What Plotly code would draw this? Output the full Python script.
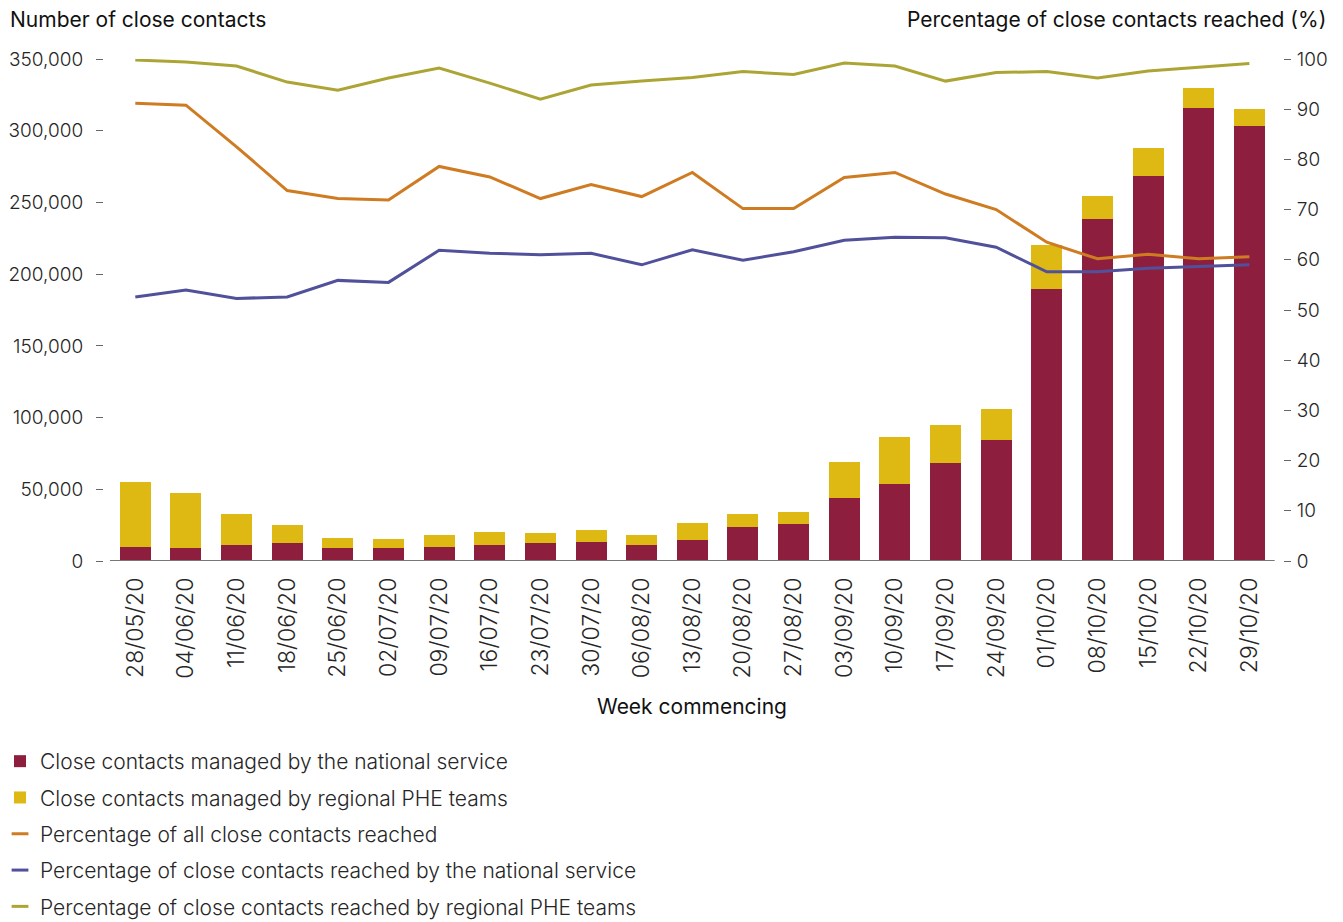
import plotly.graph_objects as go

weeks = [
    "28/05/20", "04/06/20", "11/06/20", "18/06/20", "25/06/20", "02/07/20",
    "09/07/20", "16/07/20", "23/07/20", "30/07/20", "06/08/20", "13/08/20",
    "20/08/20", "27/08/20", "03/09/20", "10/09/20", "17/09/20", "24/09/20",
    "01/10/20", "08/10/20", "15/10/20", "22/10/20", "29/10/20",
]

national = [
    9800, 9000, 11200, 12500, 9100, 9100, 9800, 11200, 12500, 13200, 11200, 14600,
    23700, 25800, 43900, 53700, 68300, 84400, 189600, 238400, 268400, 315800, 303300,
]
regional = [
    45300, 38400, 21600, 12600, 6900, 6200, 8300, 9000, 7000, 8400, 6900, 11900,
    9100, 8400, 25100, 32800, 26500, 21600, 30700, 16100, 19600, 14000, 11800,
]

pct_all = [
    91.2, 90.8, 82.5, 73.8, 72.2, 71.9, 78.6, 76.5, 72.2, 75.0, 72.6, 77.4,
    70.2, 70.2, 76.4, 77.4, 73.1, 70.0, 63.5, 60.2, 61.1, 60.2, 60.6,
]
pct_national = [
    52.6, 54.0, 52.3, 52.6, 55.9, 55.5, 61.9, 61.3, 61.0, 61.3, 59.0, 62.0,
    59.9, 61.6, 63.9, 64.5, 64.4, 62.5, 57.6, 57.6, 58.3, 58.6, 59.0,
]
pct_regional = [
    99.8, 99.4, 98.6, 95.4, 93.8, 96.2, 98.2, 95.2, 92.0, 94.8, 95.6, 96.3,
    97.5, 96.9, 99.2, 98.6, 95.6, 97.3, 97.5, 96.2, 97.6, 98.3, 99.1,
]

C_NAT = "#8E1E3E"
C_REG = "#DEB813"
C_ALL = "#CF7B22"
C_PNAT = "#51519B"
C_PREG = "#ACA535"

FONT = "Inter"
TXT = "#262626"
W = 300  # light weight, the original uses a thin sans

fig = go.Figure()

fig.add_trace(go.Bar(
    x=weeks, y=national, name="Close contacts managed by the national service",
    marker=dict(color=C_NAT, line=dict(width=0)), legendgroup="a",
))
fig.add_trace(go.Bar(
    x=weeks, y=regional, name="Close contacts managed by regional PHE teams",
    marker=dict(color=C_REG, line=dict(width=0)), legendgroup="b",
))

lines = [
    (pct_all, C_ALL, "Percentage of all close contacts reached", "c"),
    (pct_national, C_PNAT, "Percentage of close contacts reached by the national service", "d"),
    (pct_regional, C_PREG, "Percentage of close contacts reached by regional PHE teams", "e"),
]
for vals, col, label, grp in lines:
    fig.add_trace(go.Scatter(
        x=weeks, y=vals, yaxis="y2", mode="lines", name=label,
        line=dict(color=col, width=3), showlegend=False, legendgroup=grp,
        cliponaxis=False,
    ))
    # short dash legend key, like the original
    fig.add_trace(go.Scatter(
        x=[None], y=[None], yaxis="y2", mode="markers", name=label,
        marker=dict(symbol="line-ew", size=12, color=col, line=dict(color=col, width=3)),
        legendgroup=grp,
    ))

# category baseline
fig.add_shape(
    type="line", xref="x", yref="y", x0=-0.5, x1=len(weeks) - 0.5, y0=0, y1=0,
    line=dict(color="#777777", width=2),
)

ann_font = dict(family=FONT, size=21, color="#111111", weight=W + 100)
fig.add_annotation(text="Number of close contacts", xref="paper", yref="paper",
                   x=-0.0814, y=1.0777, xanchor="left", yanchor="middle",
                   showarrow=False, font=ann_font)
fig.add_annotation(text="Percentage of close contacts reached (%)", xref="paper", yref="paper",
                   x=1.0382, y=1.0777, xanchor="right", yanchor="middle",
                   showarrow=False, font=ann_font)
fig.add_annotation(text="Week commencing", xref="paper", yref="paper",
                   x=0.4987, y=-0.2908, xanchor="center", yanchor="middle",
                   showarrow=False, font=ann_font)

# page body has an 8px margin, so the figure is drawn 8px smaller
fig.update_layout(
    width=1335, height=914,
    barmode="stack", bargap=0.388,
    plot_bgcolor="white", paper_bgcolor="white",
    margin=dict(l=96, r=60, t=51, b=361, autoexpand=False),
    font=dict(family=FONT, color=TXT, weight=W),
    xaxis=dict(
        type="category", range=[-0.618, 22.664], showgrid=False, showline=False,
        ticks="", tickangle=-90, tickfont=dict(size=23, color=TXT, weight=W),
        ticklabelstandoff=11, automargin=False,
    ),
    yaxis=dict(
        range=[0, 350000], tickvals=list(range(0, 350001, 50000)), tickformat=",",
        showgrid=False, zeroline=False, showline=False,
        ticks="outside", ticklen=7, tickwidth=1.2, tickcolor="#666666",
        tickfont=dict(size=19, color=TXT, weight=W), ticklabelstandoff=9, automargin=False,
    ),
    yaxis2=dict(
        range=[0, 100], tickvals=list(range(0, 101, 10)), overlaying="y", side="right",
        showgrid=False, zeroline=False, showline=False,
        ticks="outside", ticklen=7, tickwidth=1.2, tickcolor="#666666",
        tickfont=dict(size=19, color=TXT, weight=W), ticklabelstandoff=2, automargin=False,
    ),
    legend=dict(
        orientation="v", x=-0.0882, y=-0.3586, xanchor="left", yanchor="top",
        traceorder="grouped", tracegroupgap=6,
        font=dict(family=FONT, size=21, color=TXT, weight=W),
        bgcolor="rgba(0,0,0,0)",
    ),
    showlegend=True,
)

fig.write_html("out.html")
